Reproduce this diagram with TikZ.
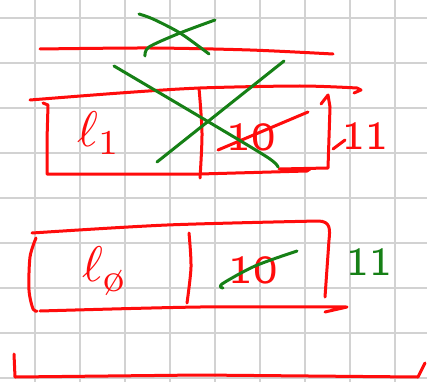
\documentclass[tikz,border=0pt]{standalone}
\definecolor{penred}{RGB}{255,12,12}
\definecolor{pengreen}{RGB}{22,128,22}
\definecolor{gridgray}{RGB}{210,210,210}
\tikzset{
  redpen/.style={draw=penred, line width=3pt, line cap=round, line join=round},
  greenpen/.style={draw=pengreen, line width=3pt, line cap=round, line join=round},
  gridline/.style={draw=gridgray, line width=1.8pt},
  hand/.style={inner sep=0pt, font=\fontsize{40}{40}\selectfont\sffamily},
}
\begin{document}
\begin{tikzpicture}[x=1pt,y=-1pt]
\fill[white] (0,0) rectangle (427,382);
\useasboundingbox (0,0) rectangle (427,382);
% grid paper
\foreach \gx in {35,80,...,395} \draw[gridline] (\gx,0) -- (\gx,382);
\foreach \gy in {18,63,...,378} \draw[gridline] (0,\gy) -- (427,\gy);

% ---------- texts ----------
\node[inner sep=0pt, text=penred] (lone) at (99,133) {\scalebox{5}{$\ell_1$}};
\node[hand, text=penred] (tenA) at (251,137) {\scalebox{1.3}[1]{10}};
\node[hand, text=penred] (elevenA) at (365,136) {\scalebox{1.2}[1]{11}};
\node[inner sep=0pt, text=penred] (lzero) at (104,271) {\scalebox{5}{$\ell$\raisebox{-2pt}{\footnotesize\o}}};
\node[hand, text=penred] (tenB) at (253,270) {\scalebox{1.3}[1]{10}};
\node[hand, text=pengreen] (elevenB) at (369,262) {\scalebox{1.2}[1]{11}};

% ---------- red strokes, first box ----------
\draw[redpen] plot[smooth] coordinates {(40,49) (150,48) (250,50) (333,54)};
\draw[redpen] plot[smooth] coordinates {(30,100) (120,93) (200,88) (300,86) (357,88)} -- (361,90) -- (354,93);
\draw[redpen] (43,103) -- (48,105) -- (47,140) -- (47,174) -- (200,174) -- (307,171) -- (310,169);
\draw[redpen] (321,104) -- (328,95) -- (330,107) -- (328,168) -- (279,169);
\draw[redpen] plot[smooth] coordinates {(199,88) (202,133) (200,178)};
\draw[redpen] (218,150) -- (308,112);
\draw[redpen] (333,149) -- (345,140);

% ---------- red strokes, second box ----------
\draw[redpen] plot[smooth] coordinates {(32,233) (167,225) (318,221)} .. controls (331,221) and (330,230) .. (329,240) -- (325,297);
\draw[redpen] plot[smooth] coordinates {(36,238) (30,257) (29,290) (33,309) (37,311)};
\draw[redpen] plot[smooth] coordinates {(40,311) (200,307) (347,307)} -- (325,312);
\draw[redpen] plot[smooth] coordinates {(189,233) (191,267) (187,303)};
\draw[redpen] plot[smooth] coordinates {(14,354) (15,377)} -- (200,375) -- (418,377) -- (425,363);

% ---------- green strokes ----------
\draw[greenpen] plot[smooth] coordinates {(139,14) (153,19) (180,33) (209,54)};
\draw[greenpen] plot[smooth] coordinates {(145,56) (149,47) (180,33) (215,20)};
\draw[greenpen] plot[smooth] coordinates {(114,66) (202,118) (267,157) (278,167)};
\draw[greenpen] (284,61) -- (157,162);
\draw[greenpen] plot[smooth] coordinates {(223,288) (222,284) (255,266) (297,251)};
\end{tikzpicture}
\end{document}
